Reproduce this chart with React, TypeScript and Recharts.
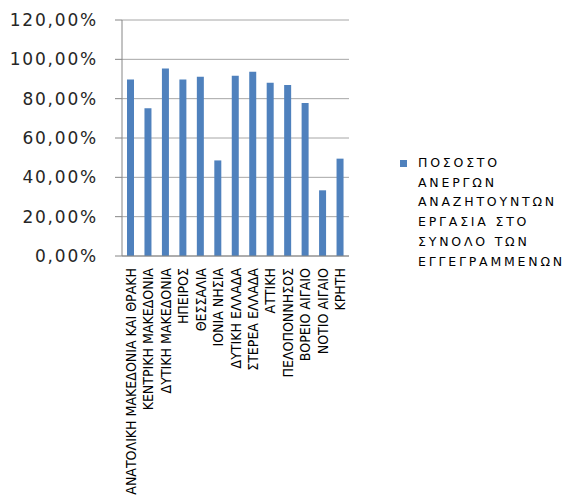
import React from "react";
import { BarChart, Bar, XAxis, YAxis, CartesianGrid, Legend } from "recharts";

const categories: string[] = [
  "ΑΝΑΤΟΛΙΚΗ ΜΑΚΕΔΟΝΙΑ ΚΑΙ ΘΡΑΚΗ",
  "ΚΕΝΤΡΙΚΗ ΜΑΚΕΔΟΝΙΑ",
  "ΔΥΤΙΚΗ ΜΑΚΕΔΟΝΙΑ",
  "ΗΠΕΙΡΟΣ",
  "ΘΕΣΣΑΛΙΑ",
  "ΙΟΝΙΑ ΝΗΣΙΑ",
  "ΔΥΤΙΚΗ ΕΛΛΑΔΑ",
  "ΣΤΕΡΕΑ ΕΛΛΑΔΑ",
  "ΑΤΤΙΚΗ",
  "ΠΕΛΟΠΟΝΝΗΣΟΣ",
  "ΒΟΡΕΙΟ ΑΙΓΑΙΟ",
  "ΝΟΤΙΟ ΑΙΓΑΙΟ",
  "ΚΡΗΤΗ",
];

const values: number[] = [89.8, 75.1, 95.4, 89.8, 91.2, 48.6, 91.7, 93.7, 88.1, 86.9, 77.8, 33.4, 49.5];

const yTicks: number[] = [0, 20, 40, 60, 80, 100, 120];
const boundaryTicks: number[] = [0, 1, 2, 3, 4, 5, 6, 7, 8, 9, 10, 11, 12, 13];

const seriesName = "ΠΟΣΟΣΤΟ ΑΝΕΡΓΩΝ ΑΝΑΖΗΤΟΥΝΤΩΝ ΕΡΓΑΣΙΑ ΣΤΟ ΣΥΝΟΛΟ ΤΩΝ ΕΓΓΕΓΡΑΜΜΕΝΩΝ";
const seriesNameLines: string[] = [
  "ΠΟΣΟΣΤΟ",
  "ΑΝΕΡΓΩΝ",
  "ΑΝΑΖΗΤΟΥΝΤΩΝ",
  "ΕΡΓΑΣΙΑ ΣΤΟ",
  "ΣΥΝΟΛΟ ΤΩΝ",
  "ΕΓΓΕΓΡΑΜΜΕΝΩΝ",
];

const data = categories.map((name, i) => ({ name, idx: i + 0.5, value: values[i] }));

const BAR_COLOR = "#4f81bd";
const AXIS_COLOR = "#868686";
const GRID_COLOR = "#a6a6a6";

const fmt = (v: number) => v.toFixed(2).replace(".", ",") + "%";

const CatTick = (props: any) => {
  const { x, y, payload } = props;
  const ty = y + 6;
  return (
    <text
      x={x}
      y={ty}
      dy={5}
      transform={`rotate(-90 ${x} ${ty})`}
      textAnchor="end"
      fill="#000"
      fontSize={14}
      fontFamily="'DejaVu Sans Condensed', 'Liberation Sans Narrow', sans-serif"
    >
      {payload.value}
    </text>
  );
};

const LegendContent = () => (
  <div
    style={{
      position: "relative",
      paddingLeft: 20,
      fontFamily: "'DejaVu Sans', sans-serif",
      fontSize: 12.5,
      letterSpacing: 2.8,
      lineHeight: "19.7px",
      color: "#000",
      whiteSpace: "nowrap",
    }}
    title={seriesName}
  >
    <span
      style={{
        position: "absolute",
        left: 2,
        top: 7,
        width: 7,
        height: 7,
        background: BAR_COLOR,
      }}
    />
    {seriesNameLines.map((l, i) => (
      <div key={i}>{l}</div>
    ))}
  </div>
);

export default function App() {
  return (
    <div style={{ position: "absolute", left: 0, top: 0 }}>
      <BarChart
        width={570}
        height={502}
        data={data}
        margin={{ top: 20, right: 221, left: 0, bottom: 0 }}
      >
        <CartesianGrid vertical={false} stroke={GRID_COLOR} />
        <XAxis
          xAxisId={0}
          type="number"
          dataKey="idx"
          domain={[0, 13]}
          ticks={boundaryTicks}
          tick={false}
          tickLine={{ stroke: AXIS_COLOR }}
          tickSize={5}
          axisLine={{ stroke: AXIS_COLOR }}
          height={6}
          allowDataOverflow
        />
        <XAxis
          xAxisId="cat"
          dataKey="name"
          type="category"
          interval={0}
          axisLine={false}
          tickLine={false}
          tickSize={0}
          tickMargin={0}
          height={240}
          tick={<CatTick />}
        />
        <YAxis
          domain={[0, 120]}
          ticks={yTicks}
          interval={0}
          width={122}
          tickFormatter={fmt}
          tickSize={7}
          tickMargin={17}
          tickLine={{ stroke: AXIS_COLOR }}
          axisLine={{ stroke: AXIS_COLOR }}
          tick={{
            fill: "#262626",
            fontSize: 17,
            fontFamily: "'DejaVu Sans', sans-serif",
            letterSpacing: 1.8,
          }}
        />
        <Legend
          layout="vertical"
          align="center"
          verticalAlign="middle"
          content={<LegendContent />}
          wrapperStyle={{ left: 398, top: 153, width: 172, height: "auto" }}
        />
        <Bar
          xAxisId="cat"
          dataKey="value"
          name={seriesName}
          fill={BAR_COLOR}
          barSize={7}
          isAnimationActive={false}
        />
      </BarChart>
    </div>
  );
}
